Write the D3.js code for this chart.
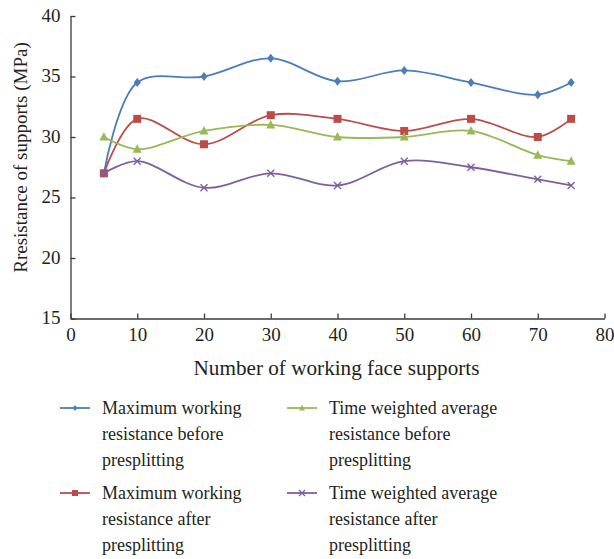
<!DOCTYPE html>
<html><head><meta charset="utf-8">
<script src="https://cdn.jsdelivr.net/npm/d3@7"></script>
<style>body{margin:0;background:#fff}svg{display:block}text{font-family:"Liberation Serif","DejaVu Serif",serif;fill:#231f20}</style>
</head><body><svg id="c" width="614" height="559"></svg>
<script>
const xValues = [5, 10, 20, 30, 40, 50, 60, 70, 75];
const maxBefore = [27, 34.5, 35, 36.5, 34.6, 35.5, 34.5, 33.5, 34.5];
const maxAfter = [27, 31.5, 29.4, 31.8, 31.5, 30.5, 31.5, 30, 31.5];
const twaBefore = [30, 29, 30.5, 31, 30, 30, 30.5, 28.5, 28];
const twaAfter = [27, 28, 25.8, 27, 26, 28, 27.5, 26.5, 26];
const xTicks = [0, 10, 20, 30, 40, 50, 60, 70, 80];
const yTicks = [15, 20, 25, 30, 35, 40];
const seriesNames = [
  ["Maximum working", "resistance before", "presplitting"],
  ["Maximum working", "resistance after", "presplitting"],
  ["Time weighted average", "resistance before", "presplitting"],
  ["Time weighted average", "resistance after", "presplitting"]
];
const series = [
  {name: seriesNames[0], values: maxBefore, color: "#4a7ebb", marker: "diamond"},
  {name: seriesNames[1], values: maxAfter, color: "#be4b48", marker: "square"},
  {name: seriesNames[2], values: twaBefore, color: "#98b954", marker: "triangle"},
  {name: seriesNames[3], values: twaAfter, color: "#7d60a0", marker: "x"}
];

const svg = d3.select("#c");
const x = d3.scaleLinear().domain([0, 80]).range([70.5, 604.5]);
const y = d3.scaleLinear().domain([15, 40]).range([318.5, 16]);

// axes
const xAxis = svg.append("g").attr("transform", `translate(0,${y(15)})`)
  .call(d3.axisBottom(x).tickValues(xTicks).tickSizeInner(-5).tickSizeOuter(0).tickPadding(9));
const yAxis = svg.append("g").attr("transform", `translate(${x(0)},0)`)
  .call(d3.axisLeft(y).tickValues(yTicks).tickSizeInner(-5).tickSizeOuter(0).tickPadding(10));
[xAxis, yAxis].forEach(a => {
  a.selectAll("path,line").attr("stroke", "#3a3a3a").attr("stroke-width", 1.3);
  a.selectAll("text").attr("font-size", 19).attr("font-family", "Liberation Serif").attr("fill", "#231f20");
});
yAxis.selectAll("text").attr("dy", "0.28em");

svg.append("text").attr("x", 336.5).attr("y", 375).attr("text-anchor", "middle")
  .attr("font-size", 21.2).text("Number of working face supports");
svg.append("text").attr("transform", "translate(27,157.5) rotate(-90)").attr("text-anchor", "middle")
  .attr("font-size", 19).text("Rresistance of supports (MPa)");

const line = d3.line().x((d, i) => x(xValues[i])).y(d => y(d)).curve(d3.curveCatmullRom.alpha(0.5));

function drawMarker(g, type, cx, cy, color, s) {
  if (type === "diamond") {
    g.append("path").attr("d", `M${cx},${cy - s}L${cx + s * 0.8},${cy}L${cx},${cy + s}L${cx - s * 0.8},${cy}Z`).attr("fill", color);
  } else if (type === "square") {
    g.append("rect").attr("x", cx - s).attr("y", cy - s).attr("width", 2 * s).attr("height", 2 * s).attr("fill", color);
  } else if (type === "triangle") {
    g.append("path").attr("d", `M${cx},${cy - s * 1.1}L${cx + s},${cy + s * 0.8}L${cx - s},${cy + s * 0.8}Z`).attr("fill", color);
  } else {
    g.append("path").attr("d", `M${cx - s},${cy - s}L${cx + s},${cy + s}M${cx - s},${cy + s}L${cx + s},${cy - s}`)
      .attr("stroke", color).attr("stroke-width", 1.4).attr("fill", "none");
  }
}
const msize = {diamond: 4.5, square: 4, triangle: 4.5, x: 3.5};

series.forEach(s => {
  const g = svg.append("g");
  g.append("path").datum(s.values).attr("d", line).attr("fill", "none").attr("stroke", s.color).attr("stroke-width", 1.8);
  s.values.forEach((v, i) => drawMarker(g, s.marker, x(xValues[i]), y(v), s.color, msize[s.marker]));
});

// legend
const legPos = [[60, 408], [60, 493], [287, 408], [287, 493]];
series.forEach((s, k) => {
  const [lx, ly] = legPos[k];
  const g = svg.append("g");
  g.append("line").attr("x1", lx).attr("x2", lx + 30).attr("y1", ly).attr("y2", ly).attr("stroke", s.color).attr("stroke-width", 1.8);
  drawMarker(g, s.marker, lx + 15, ly, s.color, 3);
  s.name.forEach((t, j) => {
    g.append("text").attr("x", lx + 42).attr("y", ly + 6 + j * 26).attr("font-size", 18).text(t);
  });
});
</script></body></html>
